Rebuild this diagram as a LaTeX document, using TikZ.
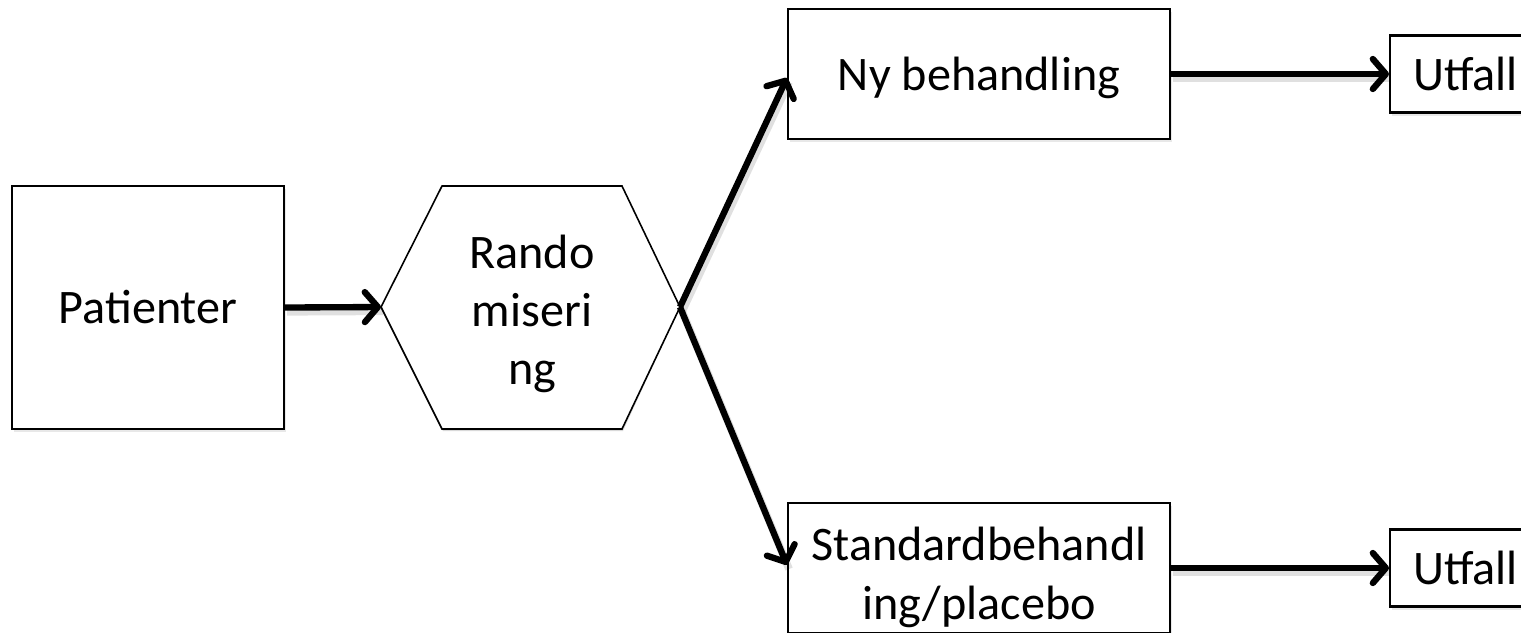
\documentclass[tikz,border=0pt]{standalone}
\usepackage{fontspec}
\setmainfont{Carlito}
\usetikzlibrary{arrows.meta,shadows,calc}
\begin{document}
\begin{tikzpicture}[x=0.01cm,y=-0.01cm,
  every node/.style={font=\fontsize{13.7}{16.6}\selectfont, align=center, inner sep=0pt},
  box/.style={draw, line width=0.6pt, fill=white,
    drop shadow={shadow xshift=0.6pt, shadow yshift=-0.9pt, opacity=0.18}},
  endbox/.style={box, anchor=west, text width=1.4cm, align=left,
    inner xsep=0.23cm, minimum height=77*0.01cm},
  link/.style={line width=1.8pt,
    -{Straight Barb[length=1.3mm, width=3mm, line width=1.8pt, round]}},
  linkshade/.style={line width=2.2pt, draw=black, opacity=0.12,
    transform canvas={shift={(0.6pt,-1.2pt)}}}
]
\useasboundingbox (0,0) rectangle (1521,632);

% boxes
\node[box, minimum width=272*0.01cm, minimum height=243*0.01cm] (pat) at (148,307.5) {Patienter};
\node[box, minimum width=382*0.01cm, minimum height=130*0.01cm] (ny) at (979,74) {\rule{0pt}{0.42cm}Ny behandling};
\node[box, minimum width=382*0.01cm, minimum height=130*0.01cm] (std) at (979,568) {\rule{0pt}{0.52cm}Standardbehandl\\ing/placebo};
\node[endbox] (ut1) at (1389,74) {Utfall};
\node[endbox] (ut2) at (1389,568) {Utfall};

% randomisation hexagon
\coordinate (randW) at (381,307);
\coordinate (randE) at (680,307);
\fill[black, opacity=0.15, shift={(1,2)}]
  (randW) -- (442,186) -- (622,186) -- (randE) -- (622,429) -- (442,429) -- cycle;
\filldraw[fill=white, line width=0.45pt, line join=miter]
  (randW) -- (442,186) -- (622,186) -- (randE) -- (622,429) -- (442,429) -- cycle;
\node (rand) at (532,314) {Rando\\miseri\\ng};

% connector shadows
\draw[linkshade] (pat.east) -- (randW);
\draw[linkshade] (randE) -- ([yshift=-1.1pt]ny.west);
\draw[linkshade] (randE) -- ([yshift=0.9pt]std.west);
\draw[linkshade] (ny.east) -- (ut1.west);
\draw[linkshade] (std.east) -- (ut2.west);

% connectors
\draw[link] (pat.east) -- (randW);
\draw[link] (randE) -- ([yshift=-1.1pt]ny.west);
\draw[link] (randE) -- ([yshift=0.9pt]std.west);
\draw[link] (ny.east) -- (ut1.west);
\draw[link] (std.east) -- (ut2.west);
\end{tikzpicture}
\end{document}
